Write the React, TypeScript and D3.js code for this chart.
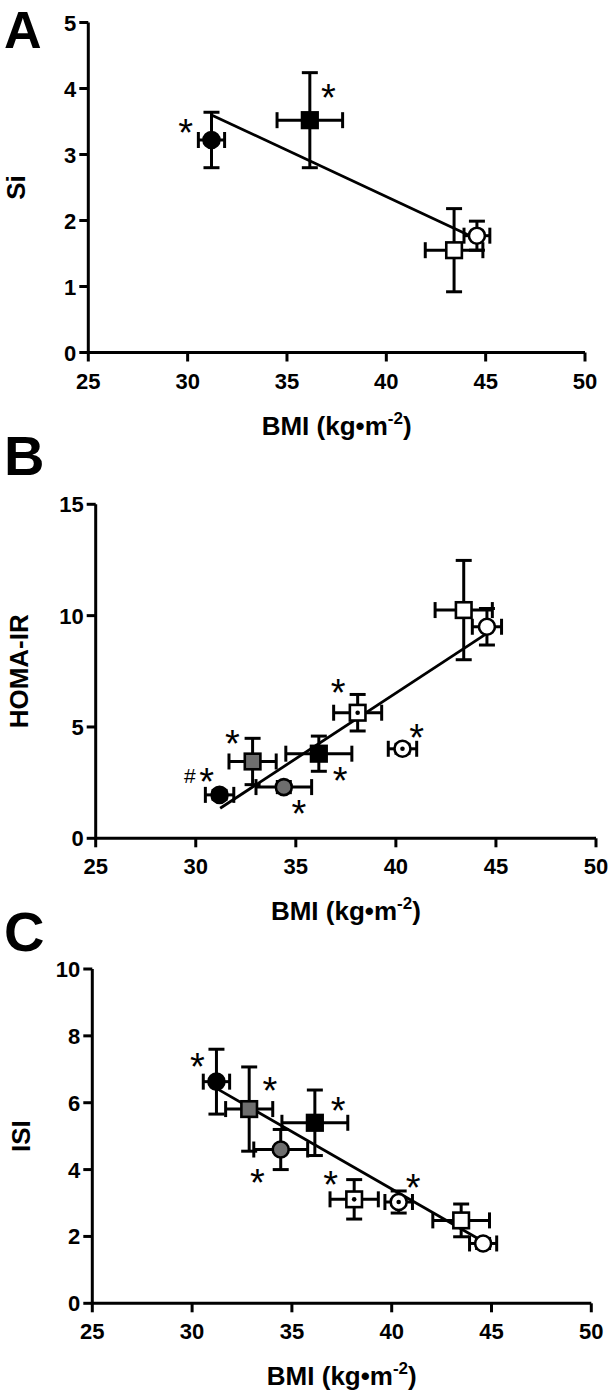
import React from "react";
import * as d3 from "d3";

// ---------- DATA ----------
// Panel A : Si vs BMI
const markersA = ["filledCircle", "filledSquare", "openSquare", "openCircle"];
const bmiA = [31.2, 36.15, 43.41, 44.56];
const bmiErrA = [0.66, 1.65, 1.45, 0.65];
const siA = [3.22, 3.52, 1.55, 1.77];
const siErrA = [0.42, 0.72, 0.63, 0.22];
const fitA = [
  [31.2, 3.6],
  [44.56, 1.72],
];
const notesA = [
  { t: "*", x: 29.9, y: 3.46 },
  { t: "*", x: 37.08, y: 4.0 },
];

// Panel B : HOMA-IR vs BMI
const markersBC = [
  "filledCircle",
  "graySquare",
  "grayCircle",
  "filledSquare",
  "dotSquare",
  "dotCircle",
  "openSquare",
  "openCircle",
];
const bmiB = [31.19, 32.84, 34.4, 36.15, 38.09, 40.33, 43.39, 44.55];
const bmiErrB = [0.71, 1.18, 1.39, 1.65, 1.2, 0.71, 1.43, 0.73];
const homaB = [1.95, 3.45, 2.3, 3.8, 5.64, 4.02, 10.25, 9.5];
const homaErrB = [0.2, 1.04, 0.25, 0.79, 0.82, 0.2, 2.23, 0.82];
const fitB = [
  [31.22, 1.35],
  [44.55, 9.2],
];
const notesB = [
  { t: "#", x: 29.71, y: 2.84 },
  { t: "*", x: 30.55, y: 2.93 },
  { t: "*", x: 31.83, y: 4.64 },
  { t: "*", x: 35.16, y: 1.5 },
  { t: "*", x: 37.21, y: 2.99 },
  { t: "*", x: 37.12, y: 6.92 },
  { t: "*", x: 41.04, y: 4.89 },
];

// Panel C : ISI vs BMI
const bmiC = [31.22, 32.86, 34.44, 36.15, 38.12, 40.35, 43.48, 44.58];
const bmiErrC = [0.66, 1.18, 1.35, 1.65, 1.21, 0.69, 1.42, 0.68];
const isiC = [6.63, 5.81, 4.6, 5.4, 3.11, 3.03, 2.48, 1.79];
const isiErrC = [0.97, 1.26, 0.6, 0.98, 0.59, 0.33, 0.49, 0.15];
const fitC = [
  [31.22, 6.43],
  [44.58, 1.85],
];
const notesC = [
  { t: "*", x: 30.26, y: 7.33 },
  { t: "*", x: 33.9, y: 6.63 },
  { t: "*", x: 37.32, y: 6.03 },
  { t: "*", x: 33.27, y: 3.86 },
  { t: "*", x: 36.94, y: 3.81 },
  { t: "*", x: 41.08, y: 3.71 },
];

const xTicks = [25, 30, 35, 40, 45, 50];
const yTicksA = [0, 1, 2, 3, 4, 5];
const yTicksB = [0, 5, 10, 15];
const yTicksC = [0, 2, 4, 6, 8, 10];

// ---------- LAYOUT ----------
const FONT = "'Liberation Sans', Arial, Helvetica, sans-serif";
const panels = [
  {
    letter: "A",
    letterY: 47.5,
    letterSize: 52,
    x0: 88.3,
    x1: 585,
    yB: 352.5,
    yT: 22.5,
    yMax: 5,
    yTicks: yTicksA,
    title: "Si",
    titleX: 25,
    markers: markersA,
    xs: bmiA,
    xe: bmiErrA,
    ys: siA,
    ye: siErrA,
    fit: fitA,
    notes: notesA,
  },
  {
    letter: "B",
    letterY: 475,
    letterSize: 56,
    x0: 95.7,
    x1: 596,
    yB: 838.3,
    yT: 504.3,
    yMax: 15,
    yTicks: yTicksB,
    title: "HOMA-IR",
    titleX: 28,
    markers: markersBC,
    xs: bmiB,
    xe: bmiErrB,
    ys: homaB,
    ye: homaErrB,
    fit: fitB,
    notes: notesB,
  },
  {
    letter: "C",
    letterY: 951,
    letterSize: 56,
    x0: 92.3,
    x1: 591.3,
    yB: 1303.3,
    yT: 969,
    yMax: 10,
    yTicks: yTicksC,
    title: "ISI",
    titleX: 30,
    markers: markersBC,
    xs: bmiC,
    xe: bmiErrC,
    ys: isiC,
    ye: isiErrC,
    fit: fitC,
    notes: notesC,
  },
];

const SW = 3;
const CAP = 8;
const R = 8;
const HALF = 7.8;

function Marker({ kind, cx, cy }: { kind: string; cx: number; cy: number }) {
  const isCircle = kind.includes("Circle");
  const fill = kind.startsWith("filled")
    ? "#000"
    : kind.startsWith("gray")
    ? "#6e6e6e"
    : "#fff";
  const dot = kind.startsWith("dot");
  return (
    <g>
      {isCircle ? (
        <circle cx={cx} cy={cy} r={R} fill={fill} stroke="#000" strokeWidth={2.6} />
      ) : (
        <rect
          x={cx - HALF}
          y={cy - HALF}
          width={HALF * 2}
          height={HALF * 2}
          fill={fill}
          stroke="#000"
          strokeWidth={2.6}
        />
      )}
      {dot && <circle cx={cx} cy={cy} r={2.3} fill="#000" />}
    </g>
  );
}

function Panel({ p }: { p: (typeof panels)[number] }) {
  const x = d3.scaleLinear().domain([25, 50]).range([p.x0, p.x1]);
  const y = d3.scaleLinear().domain([0, p.yMax]).range([p.yB, p.yT]);
  const line = d3
    .line<number[]>()
    .x((d) => x(d[0]))
    .y((d) => y(d[1]));
  const midX = (p.x0 + p.x1) / 2;
  const midY = (p.yB + p.yT) / 2;
  return (
    <g>
      <text
        x={4}
        y={p.letterY}
        fontFamily={FONT}
        fontWeight="bold"
        fontSize={p.letterSize}
        fill="#000"
      >
        {p.letter}
      </text>
      {/* axes */}
      <path
        d={`M${p.x0},${p.yT}V${p.yB}H${p.x1}`}
        fill="none"
        stroke="#000"
        strokeWidth={SW}
      />
      {xTicks.map((t) => (
        <g key={"x" + t}>
          <line x1={x(t)} x2={x(t)} y1={p.yB} y2={p.yB + 9} stroke="#000" strokeWidth={SW} />
          <text
            x={x(t)}
            y={p.yB + 36}
            textAnchor="middle"
            fontFamily={FONT}
            fontWeight="bold"
            fontSize={22}
          >
            {t}
          </text>
        </g>
      ))}
      {p.yTicks.map((t) => (
        <g key={"y" + t}>
          <line x1={p.x0 - 9} x2={p.x0} y1={y(t)} y2={y(t)} stroke="#000" strokeWidth={SW} />
          <text
            x={p.x0 - 12}
            y={y(t) + 8}
            textAnchor="end"
            fontFamily={FONT}
            fontWeight="bold"
            fontSize={22}
          >
            {t}
          </text>
        </g>
      ))}
      <text
        transform={`translate(${p.titleX},${midY}) rotate(-90)`}
        textAnchor="middle"
        fontFamily={FONT}
        fontWeight="bold"
        fontSize={26}
      >
        {p.title}
      </text>
      <text
        x={midX}
        y={p.yB + 82}
        textAnchor="middle"
        fontFamily={FONT}
        fontWeight="bold"
        fontSize={26}
      >
        BMI (kg•m
        <tspan fontSize={17} dy={-11}>
          -2
        </tspan>
        <tspan dy={11}>)</tspan>
      </text>
      {/* regression line */}
      <path d={line(p.fit) || ""} fill="none" stroke="#000" strokeWidth={2.8} />
      {/* error bars */}
      {p.xs.map((bx, i) => {
        const cx = x(bx);
        const cy = y(p.ys[i]);
        const xl = x(bx - p.xe[i]);
        const xr = x(bx + p.xe[i]);
        const yt = y(p.ys[i] + p.ye[i]);
        const yb = y(p.ys[i] - p.ye[i]);
        return (
          <g key={"e" + i} stroke="#000" strokeWidth={SW} fill="none">
            <line x1={xl} x2={xr} y1={cy} y2={cy} />
            <line x1={xl} x2={xl} y1={cy - CAP} y2={cy + CAP} />
            <line x1={xr} x2={xr} y1={cy - CAP} y2={cy + CAP} />
            <line x1={cx} x2={cx} y1={yt} y2={yb} />
            <line x1={cx - CAP} x2={cx + CAP} y1={yt} y2={yt} />
            <line x1={cx - CAP} x2={cx + CAP} y1={yb} y2={yb} />
          </g>
        );
      })}
      {p.xs.map((bx, i) => (
        <Marker key={"m" + i} kind={p.markers[i]} cx={x(bx)} cy={y(p.ys[i])} />
      ))}
      {p.notes.map((n, i) =>
        n.t === "*" ? (
          <text
            key={"n" + i}
            x={x(n.x)}
            y={y(n.y) + 22}
            textAnchor="middle"
            fontFamily={FONT}
            fontSize={38}
          >
            *
          </text>
        ) : (
          <text
            key={"n" + i}
            x={x(n.x)}
            y={y(n.y) + 7.5}
            textAnchor="middle"
            fontFamily={FONT}
            fontSize={21}
          >
            {n.t}
          </text>
        )
      )}
    </g>
  );
}

export default function App() {
  return (
    <svg
      width={612}
      height={1395}
      viewBox="0 0 612 1395"
      style={{ position: "absolute", left: 0, top: 0, background: "#fff" }}
    >
      <rect width={612} height={1395} fill="#fff" />
      {panels.map((p) => (
        <Panel key={p.letter} p={p} />
      ))}
    </svg>
  );
}
